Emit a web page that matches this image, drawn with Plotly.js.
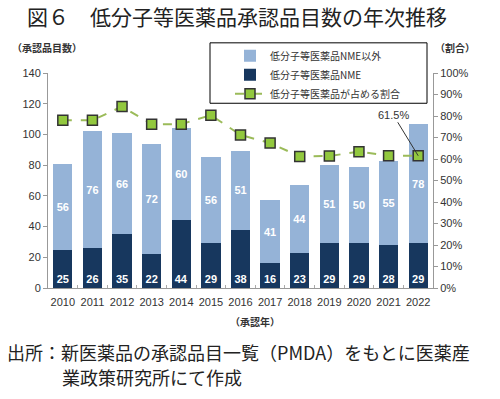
<!DOCTYPE html>
<html><head><meta charset="utf-8">
<script src="https://cdn.plot.ly/plotly-3.0.1.min.js"></script>
<style>html,body{margin:0;padding:0;background:#fff}#chart{width:500px;height:399px}</style>
</head><body><div id="chart"></div>
<script>
const years = ['2010','2011','2012','2013','2014','2015','2016','2017','2018','2019','2020','2021','2022'];
const nmeCounts = [25,26,35,22,44,29,38,16,23,29,29,28,29];
const nonNmeCounts = [56,76,66,72,60,56,51,41,44,51,50,55,78];
const shareRatio = [0.78,0.78,0.844,0.762,0.762,0.804,0.712,0.674,0.612,0.614,0.634,0.615,0.615];
const nameNonNme = '低分子等医薬品NME以外';
const nameNme = '低分子等医薬品NME';
const nameShare = '低分子等医薬品が占める割合';

const F = '"Liberation Sans", Arial, "Noto Sans CJK JP", sans-serif';
const FJ = '"Noto Sans CJK JP", sans-serif';

const traces = [
  {type:'bar', x:years, y:nmeCounts, name:nameNme, legendrank:2,
   marker:{color:'#17375E'}, width:0.65,
   text:nmeCounts.map(String), textposition:'inside', insidetextanchor:'start',
   textfont:{color:'#fff', size:11, family:F, weight:'bold'}, hoverinfo:'y'},
  {type:'bar', x:years, y:nonNmeCounts, name:nameNonNme, legendrank:1,
   marker:{color:'#95B3D7'}, width:0.65,
   text:nonNmeCounts.map(String), textposition:'inside', insidetextanchor:'middle',
   textfont:{color:'#fff', size:11, family:F, weight:'bold'}, hoverinfo:'y'},
  {type:'scatter', mode:'lines+markers', x:years, y:shareRatio, yaxis:'y2', name:nameShare, legendrank:3,
   line:{color:'#9BBB59', width:2, dash:'dash'},
   marker:{symbol:'square', size:10, color:'#92C83E', line:{color:'#333', width:1.5}}}
];

const px = v => (v-48)/385;
const py = v => (288-v)/215.3;

const layout = {
  width:500, height:399,
  margin:{l:48, r:67, t:72.7, b:111},
  paper_bgcolor:'#fff', plot_bgcolor:'#fff',
  barmode:'stack', bargap:0.35,
  showlegend:true,
  legend:{x:px(230), y:py(41), xanchor:'left', yanchor:'top', traceorder:'normal',
    font:{family:FJ, size:10, color:'#333'}, bgcolor:'rgba(0,0,0,0)', borderwidth:0,
    tracegroupgap:0, itemwidth:30},
  title:{text:'図６　低分子等医薬品承認品目数の年次推移', x:27/500, xanchor:'left', xref:'container',
    y:1-18/399, yanchor:'middle', yref:'container',
    font:{family:FJ, size:21, color:'#222'}},
  xaxis:{type:'category', range:[-0.5,12.5], autorange:false, showline:true, linecolor:'#999', linewidth:1,
    ticks:'inside', tickson:'boundaries', ticklen:3, tickcolor:'#aaa', ticklabelstandoff:4, tickangle:0,
    tickfont:{family:F, size:11, color:'#333'}, showgrid:false, zeroline:false},
  yaxis:{range:[0,140], autorange:false, dtick:20, showline:true, linecolor:'#999', linewidth:1, ticks:'outside',
    ticklen:4, tickcolor:'#999', tickfont:{family:F, size:11, color:'#333'}, showgrid:false, zeroline:false},
  yaxis2:{overlaying:'y', side:'right', range:[0,1], autorange:false, dtick:0.1, tickformat:'.0%',
    showline:true, linecolor:'#999', linewidth:1, ticks:'outside', ticklen:4, tickcolor:'#999',
    tickfont:{family:F, size:11, color:'#333'}, showgrid:false, zeroline:false},
  shapes:[
    {type:'rect', xref:'paper', yref:'paper', x0:px(210), x1:px(427), y0:py(103), y1:py(42.5),
     line:{color:'#000', width:1}, fillcolor:'rgba(0,0,0,0)'}
  ],
  annotations:[
    {xref:'paper', yref:'paper', x:px(47), y:py(47), xanchor:'center', yanchor:'middle', text:'<b>（承認品目数）</b>', showarrow:false,
     font:{family:FJ, size:10, color:'#333'}},
    {xref:'paper', yref:'paper', x:px(455), y:py(47), xanchor:'center', yanchor:'middle', text:'<b>（割合）</b>', showarrow:false,
     font:{family:FJ, size:10, color:'#333'}},
    {xref:'paper', yref:'paper', x:px(255), y:py(322), xanchor:'center', yanchor:'middle', text:'<b>（承認年）</b>', showarrow:false,
     font:{family:FJ, size:10, color:'#333'}},
    {xref:'x', yref:'y2', x:12, y:0.615, text:'61.5%', showarrow:true, arrowhead:0,
     arrowwidth:1, arrowcolor:'#333', ax:-25, ay:-41, font:{family:F, size:11, color:'#333'}},
    {xref:'paper', yref:'paper', x:px(5), y:py(352), xanchor:'left', yanchor:'middle', text:'出所：新医薬品の承認品目一覧（PMDA）をもとに医薬産',
     showarrow:false, font:{family:FJ, size:18, color:'#222'}},
    {xref:'paper', yref:'paper', x:px(60), y:py(377), xanchor:'left', yanchor:'middle', text:'業政策研究所にて作成',
     showarrow:false, font:{family:FJ, size:18, color:'#222'}}
  ]
};

Plotly.newPlot('chart', traces, layout, {displayModeBar:false, staticPlot:true});
</script></body></html>
